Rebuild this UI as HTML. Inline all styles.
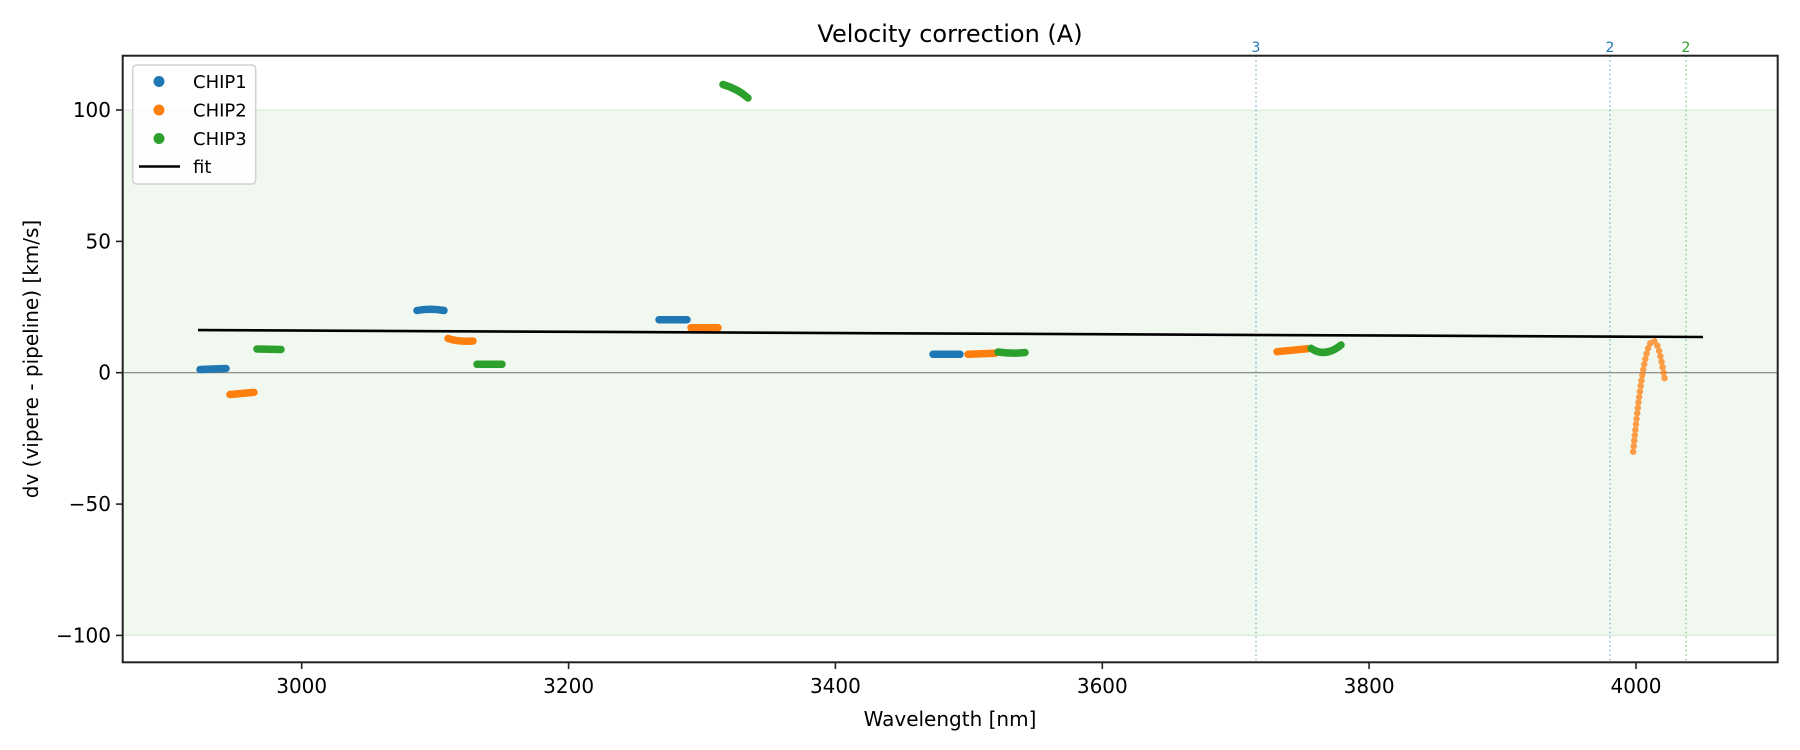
<!DOCTYPE html>
<html><head><meta charset="utf-8"><style>
html,body{margin:0;padding:0;background:#fff;}
svg{display:block;font-family:"DejaVu Sans","Liberation Sans",sans-serif;}
</style></head><body>
<svg width="1800" height="750" viewBox="0 0 1800 750" xmlns="http://www.w3.org/2000/svg">
<rect x="0" y="0" width="1800" height="750" fill="#fff"/>
<rect x="122.7" y="110" width="1655" height="525.4" fill="#2ca02c" fill-opacity="0.07"/>
<line x1="122.7" y1="110" x2="1777.7" y2="110" stroke="#2ca02c" stroke-opacity="0.12" stroke-width="1.5"/>
<line x1="122.7" y1="635.4" x2="1777.7" y2="635.4" stroke="#2ca02c" stroke-opacity="0.12" stroke-width="1.5"/>
<line x1="122.7" y1="372.7" x2="1777.7" y2="372.7" stroke="#808080" stroke-width="1.2"/>
<line x1="1256" y1="55.7" x2="1256" y2="662.3" stroke="#1f77b4" stroke-opacity="0.5" stroke-width="1.5" stroke-dasharray="1.5 3"/>
<line x1="1610" y1="55.7" x2="1610" y2="662.3" stroke="#1f77b4" stroke-opacity="0.5" stroke-width="1.5" stroke-dasharray="1.5 3"/>
<line x1="1686" y1="55.7" x2="1686" y2="662.3" stroke="#2ca02c" stroke-opacity="0.5" stroke-width="1.5" stroke-dasharray="1.5 3"/>
<text x="1256" y="52" font-size="14" fill="#1f77b4" text-anchor="middle">3</text>
<text x="1610" y="52" font-size="14" fill="#1f77b4" text-anchor="middle">2</text>
<text x="1686" y="52" font-size="14" fill="#2ca02c" text-anchor="middle">2</text>
<g fill="none" stroke-width="7.5" stroke-linecap="round" stroke-linejoin="round">
<g stroke="#1f77b4">
<path d="M200,369.5 L226,368.5"/>
<path d="M417,310.5 Q430,308 444,310.5"/>
<path d="M659,319.7 L687,319.7"/>
<path d="M933,354.3 L960,354.3"/>
</g>
<g stroke="#ff7f0e">
<path d="M230,394.5 L254,392.4"/>
<path d="M448,338.5 Q458,342 473,341"/>
<path d="M691,327.8 L718,327.8"/>
<path d="M968,354.3 L995,353.3"/>
<path d="M1277,351.7 L1308,348.7"/>
</g>
<g stroke="#2ca02c">
<path d="M257,349 L281,349.5"/>
<path d="M477,364.3 L502,364.3"/>
<path d="M723,84.5 Q738,89 748,98"/>
<path d="M998,352 Q1012,354 1025,352.5"/>
<path d="M1311,348.3 Q1325,358 1341,345"/>
</g>
</g>
<path d="M1633.2,451.7 C1639,390 1646,341 1653,340.7 C1659,341 1662,365 1665.4,382.7" fill="none" stroke="#ff7f0e" stroke-opacity="0.75" stroke-width="6.5" stroke-linecap="round" stroke-dasharray="0 5.5"/>
<line x1="198" y1="330.1" x2="1703" y2="337" stroke="#000" stroke-width="2.6"/>
<rect x="122.7" y="55.7" width="1655" height="606.6" fill="none" stroke="#222" stroke-width="2"/>
<g stroke="#222" stroke-width="1.6">
<line x1="116" y1="110" x2="122.7" y2="110"/>
<line x1="116" y1="241.4" x2="122.7" y2="241.4"/>
<line x1="116" y1="372.7" x2="122.7" y2="372.7"/>
<line x1="116" y1="504.1" x2="122.7" y2="504.1"/>
<line x1="116" y1="635.4" x2="122.7" y2="635.4"/>
</g>
<g font-size="20" fill="#000" text-anchor="end">
<text x="111" y="117">100</text>
<text x="111" y="248.4">50</text>
<text x="111" y="379.7">0</text>
<text x="111" y="511.1">−50</text>
<text x="111" y="642.4">−100</text>
</g>
<g stroke="#222" stroke-width="1.6">
<line x1="301.7" y1="662.3" x2="301.7" y2="669"/>
<line x1="568.6" y1="662.3" x2="568.6" y2="669"/>
<line x1="835.4" y1="662.3" x2="835.4" y2="669"/>
<line x1="1102.3" y1="662.3" x2="1102.3" y2="669"/>
<line x1="1369.1" y1="662.3" x2="1369.1" y2="669"/>
<line x1="1636" y1="662.3" x2="1636" y2="669"/>
</g>
<g font-size="20" fill="#000" text-anchor="middle">
<text x="301.7" y="693">3000</text>
<text x="568.6" y="693">3200</text>
<text x="835.4" y="693">3400</text>
<text x="1102.3" y="693">3600</text>
<text x="1369.1" y="693">3800</text>
<text x="1636" y="693">4000</text>
</g>
<text x="950" y="726" font-size="20" text-anchor="middle">Wavelength [nm]</text>
<text transform="translate(38,359) rotate(-90)" font-size="20" text-anchor="middle">dv (vipere - pipeline) [km/s]</text>
<text x="950" y="42" font-size="24" text-anchor="middle">Velocity correction (A)</text>
<rect x="132.7" y="65" width="123" height="119" rx="4" fill="#fff" fill-opacity="0.85" stroke="#d0d0d0" stroke-width="1.5"/>
<circle cx="159" cy="81.5" r="5.5" fill="#1f77b4"/>
<circle cx="159" cy="110" r="5.5" fill="#ff7f0e"/>
<circle cx="159" cy="138.5" r="5.5" fill="#2ca02c"/>
<line x1="139" y1="166.5" x2="180" y2="166.5" stroke="#000" stroke-width="2.6"/>
<g font-size="18" fill="#000">
<text x="193" y="88">CHIP1</text>
<text x="193" y="116.5">CHIP2</text>
<text x="193" y="145">CHIP3</text>
<text x="193" y="173">fit</text>
</g>
</svg>
</body></html>
